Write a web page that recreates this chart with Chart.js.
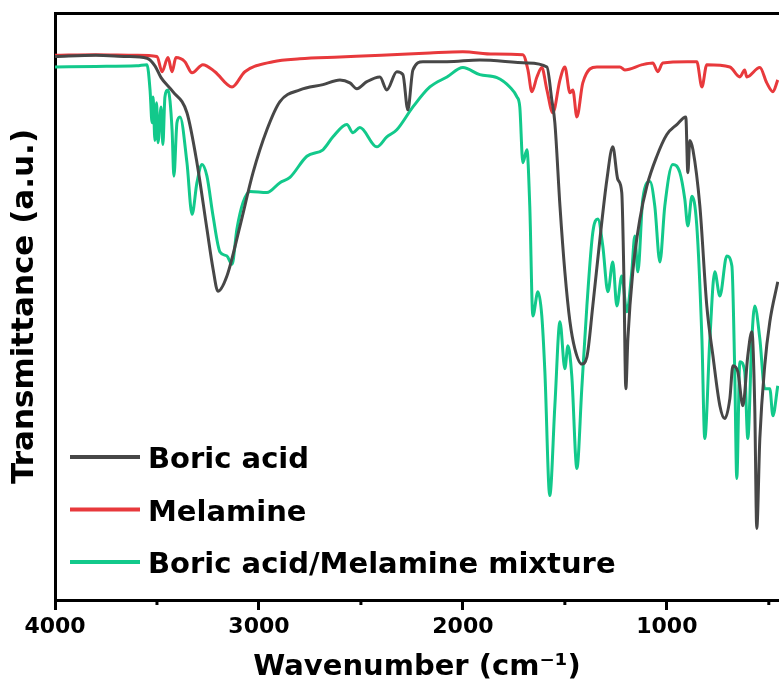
<!DOCTYPE html>
<html>
<head>
<meta charset="utf-8">
<script src="https://cdn.jsdelivr.net/npm/chart.js@4.4.1/dist/chart.umd.min.js"></script>
<style>
  html, body { margin: 0; padding: 0; background: #fff; }
  #wrap { width: 779px; height: 688px; }
</style>
</head>
<body>
<div id="wrap"><canvas id="ftir"></canvas></div>
<script>
// FTIR spectra (transmittance in a.u.)
const xTicks = [4000, 3500, 3000, 2500, 2000, 1500, 1000, 500];

const boricWn = [4000, 3800, 3650, 3549, 3510, 3480, 3422, 3353, 3304, 3255, 3225, 3201, 3157, 3093, 3029, 2961, 2897, 2799, 2686, 2603, 2554, 2520, 2471, 2407, 2373, 2324, 2294, 2270, 2245, 2196, 2078, 1917, 1686, 1588, 1564, 1549, 1524, 1500, 1475, 1451, 1417, 1392, 1363, 1328, 1294, 1265, 1240, 1221, 1211, 1201, 1191, 1167, 1132, 1098, 1049, 1000, 951, 907, 897, 887, 872, 838, 804, 774, 740, 716, 691, 676, 652, 627, 603, 583, 569, 559, 544, 520, 495, 456];
const boricT = [92.6, 92.8, 92.6, 92.3, 91.0, 89.0, 86.6, 83.0, 74.5, 63.2, 56.4, 52.6, 55.2, 63.7, 72.8, 80.1, 84.9, 86.9, 87.8, 88.6, 88.1, 87.1, 88.3, 89.1, 86.9, 90.0, 89.5, 83.5, 90.3, 91.7, 91.7, 92.0, 91.5, 90.8, 85.2, 81.3, 67.1, 55.9, 47.4, 42.8, 40.2, 41.4, 50.1, 61.5, 71.6, 77.2, 71.6, 69.4, 55.9, 36.0, 44.5, 55.9, 64.9, 70.5, 75.6, 79.3, 81.0, 82.3, 72.8, 78.3, 76.7, 67.1, 50.1, 41.6, 33.1, 30.9, 34.3, 39.9, 38.9, 33.1, 41.6, 45.7, 33.1, 12.2, 27.5, 39.9, 47.4, 54.2];

const melWn = [4000, 3800, 3600, 3500, 3475, 3446, 3426, 3407, 3363, 3328, 3275, 3216, 3132, 3069, 2931, 2800, 2603, 2400, 2162, 2000, 1850, 1706, 1681, 1662, 1637, 1613, 1588, 1559, 1524, 1500, 1475, 1461, 1441, 1412, 1343, 1230, 1206, 1120, 1069, 1044, 1020, 900, 853, 828, 804, 691, 642, 618, 608, 544, 510, 480, 456];
const melT = [92.8, 92.9, 92.8, 92.6, 90.0, 92.4, 90.0, 92.4, 91.7, 89.8, 91.2, 90.0, 87.4, 90.0, 91.7, 92.2, 92.5, 92.8, 93.2, 93.4, 93.0, 92.9, 90.3, 86.6, 89.1, 90.7, 86.9, 83.0, 88.6, 90.8, 86.4, 86.9, 82.3, 88.1, 90.8, 90.8, 90.3, 91.2, 91.5, 90.0, 91.5, 91.7, 91.7, 87.4, 91.2, 90.8, 89.1, 90.3, 89.1, 90.7, 88.1, 86.6, 88.6];

const mixWn = [4000, 3800, 3600, 3549, 3534, 3524, 3519, 3510, 3502, 3495, 3480, 3471, 3461, 3446, 3426, 3417, 3402, 3387, 3353, 3328, 3304, 3279, 3255, 3225, 3191, 3157, 3132, 3108, 3078, 3044, 2961, 2897, 2848, 2765, 2686, 2637, 2569, 2539, 2505, 2422, 2373, 2324, 2245, 2162, 2078, 2000, 1917, 1833, 1770, 1735, 1721, 1706, 1686, 1672, 1657, 1632, 1613, 1598, 1574, 1549, 1524, 1500, 1485, 1466, 1441, 1417, 1392, 1363, 1338, 1314, 1289, 1265, 1245, 1221, 1196, 1172, 1157, 1142, 1118, 1083, 1059, 1034, 1010, 971, 936, 912, 897, 877, 853, 828, 814, 789, 765, 740, 706, 681, 667, 657, 642, 618, 603, 583, 569, 544, 520, 495, 480, 456];
const mixT = [90.8, 90.9, 91.0, 91.2, 86.9, 81.3, 85.7, 78.3, 84.7, 77.9, 84.0, 77.6, 85.7, 86.9, 80.1, 72.2, 81.3, 82.3, 74.5, 65.7, 71.1, 74.2, 72.2, 65.4, 59.3, 58.6, 57.2, 63.2, 67.7, 69.6, 69.4, 71.1, 72.0, 75.6, 76.7, 78.9, 81.0, 79.6, 80.5, 77.2, 78.9, 80.1, 84.0, 87.4, 89.1, 90.7, 89.5, 89.0, 87.4, 85.7, 84.0, 74.5, 76.7, 67.1, 48.4, 52.5, 48.4, 38.9, 17.8, 33.1, 47.4, 39.4, 43.3, 38.2, 22.4, 36.0, 50.1, 62.6, 64.9, 60.3, 52.5, 57.6, 50.1, 55.2, 49.1, 55.9, 62.0, 55.9, 68.3, 71.3, 67.1, 57.6, 67.1, 74.2, 72.8, 68.3, 63.7, 68.8, 63.7, 44.5, 27.5, 44.5, 55.9, 51.8, 58.6, 56.9, 38.9, 20.7, 40.6, 38.9, 27.5, 44.5, 50.1, 44.5, 36.0, 36.0, 31.4, 36.5];

const toPoints = (wn, t) => wn.map((w, i) => ({ x: w, y: t[i] }));

const FONT = '"DejaVu Sans", sans-serif';
Chart.defaults.font.family = FONT;
Chart.defaults.color = '#000';

// legend drawn inside the plot, bottom left
const insideLegend = {
  id: 'insideLegend',
  afterDatasetsDraw(chart) {
    const { ctx, chartArea } = chart;
    ctx.save();
    ctx.font = 'bold 29px ' + FONT;
    ctx.textBaseline = 'alphabetic';
    ctx.fillStyle = '#000';
    chart.data.datasets.forEach((ds, i) => {
      const y = chartArea.bottom - 143 + i * 52.5;
      ctx.strokeStyle = ds.borderColor;
      ctx.lineWidth = 4;
      ctx.beginPath();
      ctx.moveTo(chartArea.left + 15, y);
      ctx.lineTo(chartArea.left + 85, y);
      ctx.stroke();
      ctx.fillText(ds.label, chartArea.left + 93, y + 11);
    });
    ctx.restore();
  }
};

// short minor ticks on the wavenumber axis
const minorTicks = {
  id: 'minorTicks',
  afterDraw(chart) {
    const x = chart.scales.x;
    const { ctx } = chart;
    ctx.save();
    ctx.strokeStyle = '#000';
    ctx.lineWidth = 3;
    xTicks.filter(v => v % 1000 !== 0).forEach(v => {
      const px = x.getPixelForValue(v);
      ctx.beginPath();
      ctx.moveTo(px, x.top);
      ctx.lineTo(px, x.top + 5);
      ctx.stroke();
    });
    ctx.restore();
  }
};

const ctx = document.getElementById('ftir').getContext('2d');
const ftirChart = new Chart(ctx, {
  type: 'line',
  data: {
    datasets: [{
      label: 'Boric acid',
      data: toPoints(boricWn, boricT),
      borderColor: '#474747',
    }, {
      label: 'Melamine',
      data: toPoints(melWn, melT),
      borderColor: '#e8393c',
    }, {
      label: 'Boric acid/Melamine mixture',
      data: toPoints(mixWn, mixT),
      borderColor: '#12c98b',
    }]
  },
  options: {
    responsive: true,
    maintainAspectRatio: false,
    animation: false,
    layout: { padding: 0 },
    elements: {
      point: { radius: 0 },
      line: { borderWidth: 3, cubicInterpolationMode: 'monotone' }
    },
    plugins: {
      legend: { display: false },
      tooltip: { enabled: false }
    },
    scales: {
      x: {
        type: 'linear',
        position: 'bottom',
        reverse: true,
        min: 450,
        max: 4000,
        afterBuildTicks: scale => { scale.ticks = xTicks.map(v => ({ value: v })); },
        afterFit: scale => { scale.height = 88; },
        ticks: {
          maxRotation: 0,
          autoSkip: false,
          padding: 4,
          font: { size: 22, weight: 'bold' },
          callback: v => (v % 1000 === 0 ? String(v) : '')
        },
        grid: {
          drawOnChartArea: false,
          tickLength: 10,
          tickWidth: 3,
          tickColor: c => (c.tick && c.tick.value % 1000 === 0 ? '#000' : 'rgba(0,0,0,0)')
        },
        border: { display: true, width: 3, color: '#000' },
        title: {
          display: true,
          text: 'Wavenumber (cm⁻¹)',
          font: { size: 29, weight: 'bold' },
          padding: { top: 0, bottom: 3 }
        }
      },
      xTop: {
        type: 'linear',
        position: 'top',
        reverse: true,
        min: 450,
        max: 4000,
        afterFit: scale => { scale.height = 13; },
        ticks: { display: false },
        grid: { display: false },
        border: { display: true, width: 3, color: '#000' }
      },
      y: {
        min: 0,
        max: 100,
        afterFit: scale => { scale.width = 55; },
        ticks: { display: false },
        grid: { display: false },
        border: { display: true, width: 3, color: '#000' },
        title: {
          display: true,
          text: 'Transmittance (a.u.)',
          font: { size: 31, weight: 'bold' },
          padding: { top: 6, bottom: 0 }
        }
      }
    }
  },
  plugins: [insideLegend, minorTicks]
});
</script>
</body>
</html>
